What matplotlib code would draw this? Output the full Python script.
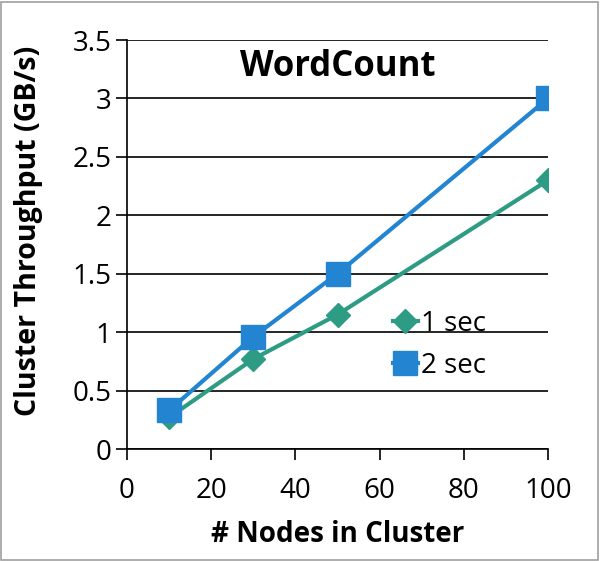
import matplotlib
matplotlib.use("Agg")
import matplotlib.pyplot as plt
from matplotlib.patches import Rectangle

plt.rcParams['font.family'] = ['Open Sans', 'DejaVu Sans']

# Data
nodes = [10, 30, 50, 100]
one_sec = [0.27, 0.77, 1.15, 2.30]
two_sec = [0.33, 0.96, 1.50, 3.00]
series_labels = ["1 sec", "2 sec"]
x_ticks = [0, 20, 40, 60, 80, 100]
y_ticks = [0, 0.5, 1, 1.5, 2, 2.5, 3, 3.5]
y_tick_labels = ["0", "0.5", "1", "1.5", "2", "2.5", "3", "3.5"]

green = "#2E9B84"
blue = "#2385D1"

W, H = 600, 561
fig = plt.figure(figsize=(W / 100, H / 100), dpi=100)
# plot area in pixels: left 127, right 548, top 40, bottom 449
ax = fig.add_axes([127 / W, 1 - 449 / H, (548 - 127) / W, (449 - 40) / H])

ax.plot(nodes, one_sec, color=green, linewidth=3, marker="D", markersize=12,
        label=series_labels[0], zorder=3)
ax.plot(nodes, two_sec, color=blue, linewidth=3, marker="s", markersize=17,
        label=series_labels[1], zorder=4)

ax.set_xlim(0, 100)
ax.set_ylim(0, 3.5)
ax.set_xticks(x_ticks)
ax.set_yticks(y_ticks)
ax.set_yticklabels(y_tick_labels)
ax.grid(axis="y", color="black", linewidth=1.2)
ax.set_axisbelow(True)

for side in ["top", "right"]:
    ax.spines[side].set_visible(False)
for side in ["left", "bottom"]:
    ax.spines[side].set_color("black")
    ax.spines[side].set_linewidth(1.2)

ax.tick_params(axis="both", direction="out", length=8, width=1.2, colors="black",
               labelsize=20, pad=3)
ax.tick_params(axis="x", pad=12)

ax.set_xlabel("# Nodes in Cluster", fontsize=20, fontweight="bold")
ax.set_ylabel("Cluster Throughput (GB/s)", fontsize=20.5, fontweight="bold")
ax.xaxis.set_label_coords(0.5, (449 - 535) / 409, transform=ax.transAxes)
ax.yaxis.set_label_coords((29 - 127) / 421, (449 - 231) / 409, transform=ax.transAxes)
ax.xaxis.label.set_va("center")
ax.yaxis.label.set_va("center")

ax.text(0.5, (449 - 76) / 409, "WordCount", transform=ax.transAxes, ha="center",
        va="baseline", fontsize=25, fontweight="bold")

ax.legend(loc="upper left", bbox_to_anchor=(379 / W, 1 - 296 / H),
          bbox_transform=fig.transFigure, frameon=False, fontsize=20,
          handlelength=0.9, handletextpad=0.1, borderpad=0, labelspacing=0.5,
          markerscale=1.0)

fig.patches.append(Rectangle((1 / W, 1 / H), 597 / W, 558 / H, transform=fig.transFigure,
                             fill=False, edgecolor="#A0A0A0", linewidth=1.2))

fig.savefig("out.png", dpi=100)
